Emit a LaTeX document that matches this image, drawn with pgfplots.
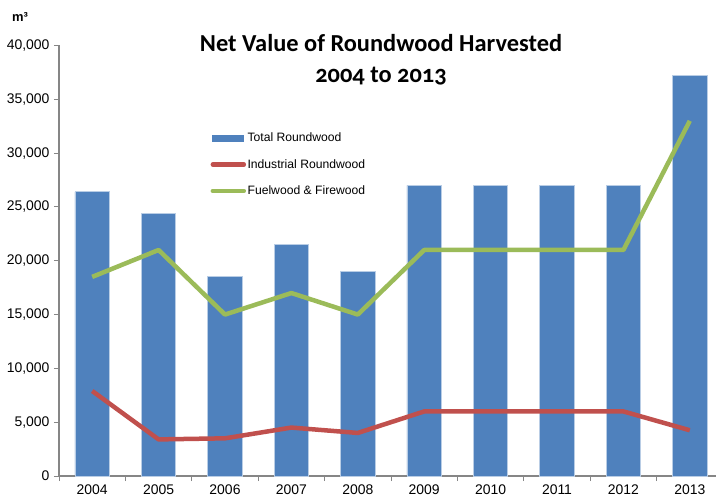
\documentclass[border=0pt]{standalone}
\usepackage{pgfplots}
\pgfplotsset{compat=1.18}
\usepackage{fontspec}
\setmainfont{Liberation Sans}
\newfontfamily\titlefont[Numbers=OldStyle]{Carlito}
\definecolor{barblue}{HTML}{4F81BD}
\definecolor{baredge}{RGB}{185,205,229}
\definecolor{indred}{HTML}{C0504D}
\definecolor{fuelgreen}{HTML}{9BBB59}
\definecolor{axisgray}{HTML}{868686}
\begin{document}
\begin{tikzpicture}
\useasboundingbox (0,0) rectangle (716bp,500bp);
\begin{axis}[
  at={(59bp,24bp)}, anchor=south west,
  scale only axis, width=664bp, height=430.5bp,
  xmin=-0.5, xmax=9.5, ymin=0, ymax=40000,
  axis x line=bottom, axis y line=left,
  axis line style={-, draw=axisgray, line width=1.2bp},
  xtick={-0.5,0.5,...,9.5},
  xticklabels={2004,2005,2006,2007,2008,2009,2010,2011,2012,2013},
  x tick label as interval,
  ytick={0,5000,...,40000},
  scaled y ticks=false,
  tick align=outside,
  major tick length=5bp,
  tick style={draw=axisgray, line width=1bp},
  /pgf/number format/.cd, 1000 sep={,}, assume math mode=true,
  /pgfplots/.cd,
  ticklabel style={font=\fontsize{14}{16}\selectfont},
  yticklabel style={xshift=-1bp},
  legend style={at={(rel axis cs:0.2235,0.805)}, anchor=north west,
    draw=none, fill=none, font=\fontsize{12.2}{14}\selectfont,
    row sep=13bp, nodes={inner sep=1.5bp}},
  legend cell align=left,
  clip=false,
]
\addplot[ybar, bar width=0.52, fill=barblue, draw=baredge, line width=0.8bp,
  legend image code/.code={\fill[barblue] (0bp,-3bp) rectangle (31bp,3bp);}]
  coordinates {(0,26400) (1,24400) (2,18500) (3,21500) (4,19000)
               (5,27000) (6,27000) (7,27000) (8,27000) (9,37200)};
\addlegendentry{Total Roundwood}
\addplot[indred, line width=4.5bp, line join=round, mark=none,
  legend image code/.code={\draw[indred, line width=4.5bp, line cap=round] (0bp,0bp) -- (31bp,0bp);}]
  coordinates {(0,7900) (1,3400) (2,3500) (3,4500) (4,4000)
               (5,6000) (6,6000) (7,6000) (8,6000) (9,4250)};
\addlegendentry{Industrial Roundwood}
\addplot[fuelgreen, line width=4.5bp, line join=round, mark=none,
  legend image code/.code={\draw[fuelgreen, line width=4.5bp, line cap=round] (0bp,0bp) -- (31bp,0bp);}]
  coordinates {(0,18500) (1,21000) (2,15000) (3,17000) (4,15000)
               (5,21000) (6,21000) (7,21000) (8,21000) (9,33000)};
\addlegendentry{Fuelwood \& Firewood}
\end{axis}
\node[font=\bfseries\fontsize{13}{15}\selectfont] at (20bp,483bp) {m³};
\node[font=\titlefont\bfseries\fontsize{24.5}{31}\selectfont, align=center]
  at (381bp,440bp) {Net Value of Roundwood Harvested\\2004 to 2013};
\end{tikzpicture}
\end{document}
